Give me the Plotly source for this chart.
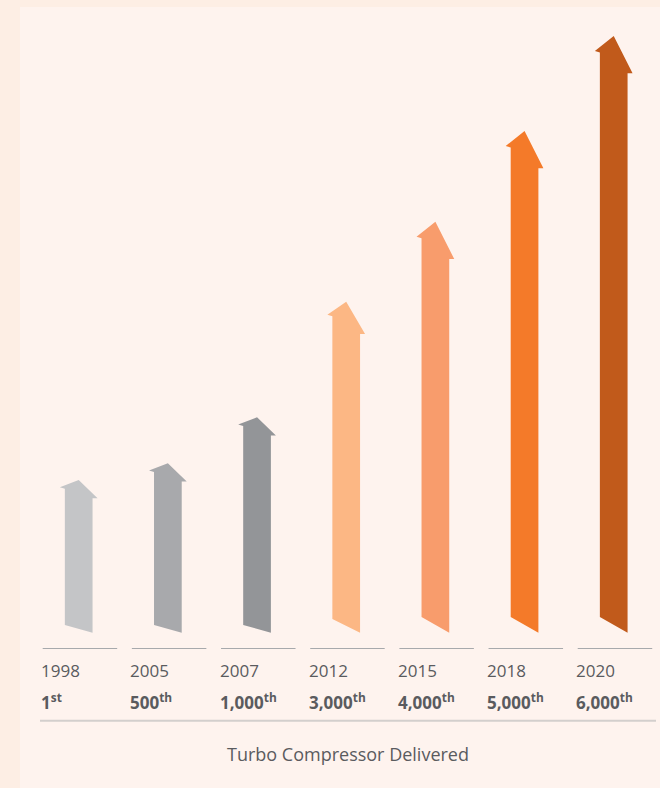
import plotly.graph_objects as go

# ---- data ----
years = ["1998", "2005", "2007", "2012", "2015", "2018", "2020"]
delivered = [1, 500, 1000, 3000, 4000, 5000, 6000]
# arrow height (apex above baseline)
arrow_height = [152.7, 169.4, 215.4, 331, 411, 501.7, 596.7]
title_text = "Turbo Compressor Delivered"

# ---- style ----
colors = ["#C4C5C7", "#A8A9AC", "#939598", "#FCB784", "#F89C6C", "#F47A29", "#C15A1B"]
tilt = [1, 1, 1, 1.78, 2.05, 2.05, 2.05]
W, H = 660, 788
X0_PX, STEP_PX = 78.7, 89.17          # centre of first arrow, spacing
BASE_PX = 632.7                       # pixel row of y = 0
xr0 = -X0_PX / STEP_PX
xr1 = (W - X0_PX) / STEP_PX
yr0, yr1 = BASE_PX - H, BASE_PX
PX = (xr1 - xr0) / W                  # x-units per pixel

SHAFT_HALF = 13.85
HEAD_OUT_L, HEAD_OUT_R = 5.0, 5.0
TEXT = "#5A5B5E"
OUTER_BG = "#FDEEE4"


def ordinal(n):
    s = "th"
    if n % 100 not in (11, 12, 13):
        s = {1: "st", 2: "nd", 3: "rd"}.get(n % 10, "th")
    return f"<b>{n:,}<sup>{s}</sup></b>"


fig = go.Figure()

for i, (h, c, t) in enumerate(zip(arrow_height, colors, tilt)):
    xl = i - SHAFT_HALF * PX
    xr = i + SHAFT_HALF * PX
    ld, rd, sl = 7.3 * t, 18.2 * t, 7.7 * t
    xs = [xl, xr, xr, xr + HEAD_OUT_R * PX, i, xl - HEAD_OUT_L * PX, xl, xl]
    ys = [sl, 0, h - rd, h - rd, h, h - ld, h - ld - 1.5, sl]
    fig.add_trace(go.Scatter(x=xs, y=ys, mode="lines", fill="toself",
                             fillcolor=c, line=dict(width=0, color=c),
                             hoverinfo="skip", showlegend=False))

shapes = [dict(type="rect", xref="paper", yref="paper", x0=20 / W, x1=1,
               y0=0, y1=1 - 7 / H, fillcolor="#FEF3EE", line=dict(width=0),
               layer="below")]
annotations = []
for i, (yr, n) in enumerate(zip(years, delivered)):
    x_start = i - 36 * PX
    shapes.append(dict(type="line", xref="x", yref="y", x0=x_start,
                       x1=i + 38.5 * PX, y0=BASE_PX - 648.5, y1=BASE_PX - 648.5,
                       line=dict(color="#A7A9AC", width=1)))
    annotations.append(dict(x=x_start, y=BASE_PX - 670, xref="x", yref="y",
                            text=yr, showarrow=False, xanchor="left",
                            yanchor="middle", xshift=-3.5,
                            font=dict(family="Open Sans", size=17, color=TEXT)))
    annotations.append(dict(x=x_start, y=BASE_PX - 701, xref="x", yref="y",
                            text=ordinal(n), showarrow=False, xanchor="left",
                            yanchor="middle", xshift=-3.5,
                            font=dict(family="Open Sans", size=17, color=TEXT)))

shapes.append(dict(type="line", xref="paper", yref="y", x0=40 / W, x1=656 / W,
                   y0=BASE_PX - 720.7, y1=BASE_PX - 720.7,
                   line=dict(color="#D3CFCD", width=2)))
annotations.append(dict(x=348 / W, y=BASE_PX - 754, xref="paper", yref="y",
                        text=title_text, showarrow=False, xanchor="center",
                        yanchor="middle",
                        font=dict(family="Open Sans", size=18, color=TEXT)))

fig.update_layout(
    width=W, height=H,
    margin=dict(l=0, r=0, t=0, b=0),
    paper_bgcolor=OUTER_BG,
    plot_bgcolor="rgba(0,0,0,0)",
    xaxis=dict(range=[xr0, xr1], visible=False, fixedrange=True),
    yaxis=dict(range=[yr0, yr1], visible=False, fixedrange=True),
    shapes=shapes,
    annotations=annotations,
    showlegend=False,
)

fig.write_html(
    "out.html",
    config={"displayModeBar": False},
    post_script=(
        "document.body.style.margin='0px';"
        "document.body.style.overflow='hidden';"
        f"document.body.style.background='{OUTER_BG}';"
    ),
)
